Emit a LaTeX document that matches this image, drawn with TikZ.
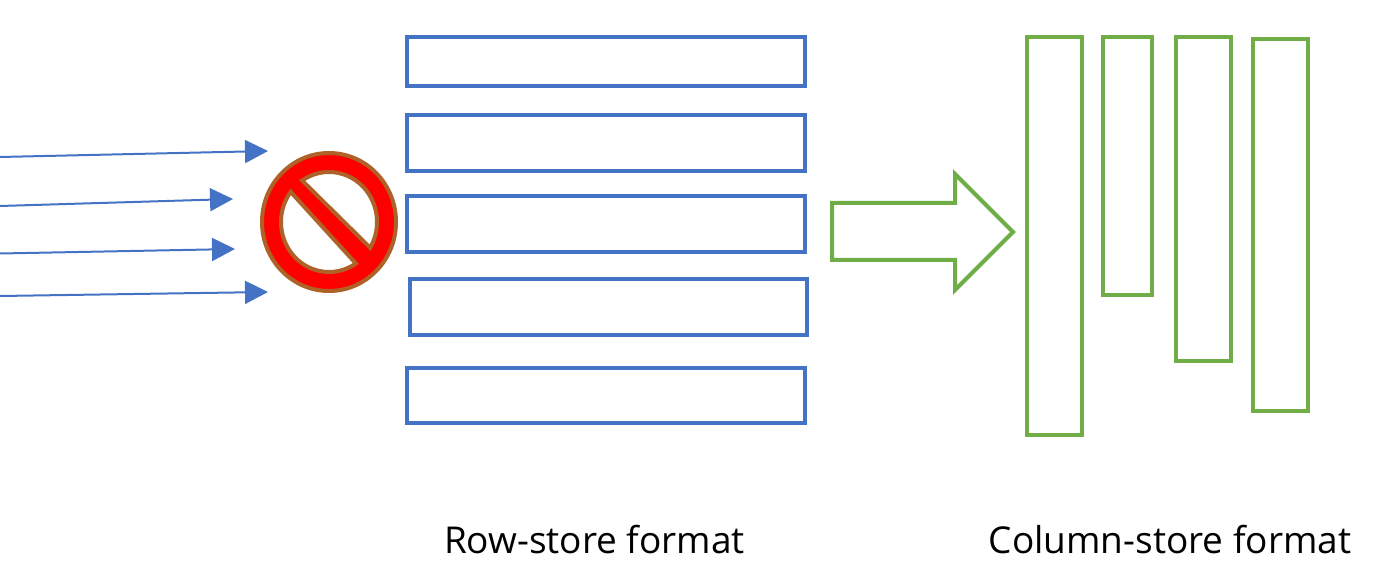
\documentclass[tikz,border=0pt]{standalone}
\usepackage{fontspec}
\setmainfont{Open Sans}
\usetikzlibrary{arrows.meta}
\definecolor{RowBlue}{RGB}{68,114,196}
\definecolor{ColGreen}{RGB}{112,173,71}
\definecolor{StopBrown}{RGB}{174,98,40}
\begin{document}
\begin{tikzpicture}[>={Triangle[length=23pt,width=23pt]},x=1pt,y=-1pt,
  rowbox/.style={draw=RowBlue,line width=4pt},
  colbox/.style={draw=ColGreen,line width=4pt},
  incoming/.style={draw=RowBlue,line width=2pt,->},
  stopsign/.style={draw=StopBrown,line width=4pt},
  caption/.style={anchor=base,font=\fontsize{37pt}{41pt}\selectfont}]
\useasboundingbox (0,0) rectangle (1373,577);
\coordinate (inA) at (0,157);
\coordinate (inB) at (0,206);
\coordinate (inC) at (0,253.5);
\coordinate (inD) at (0,296);
\coordinate (tipA) at (268,151);
\coordinate (tipB) at (233,199);
\coordinate (tipC) at (235,249);
\coordinate (tipD) at (268,292);
\draw[incoming] (inA)--(tipA);
\draw[incoming] (inB)--(tipB);
\draw[incoming] (inC)--(tipC);
\draw[incoming] (inD)--(tipD);
\draw[stopsign,fill=red] (329,222) ellipse [x radius=67,y radius=69];
\draw[stopsign,fill=white] (329,222) ++(-124:48 and 50) arc [start angle=-124,end angle=31,x radius=48,y radius=50] -- cycle;
\draw[stopsign,fill=white] (329,222) ++(56:48 and 50) arc [start angle=56,end angle=217,x radius=48,y radius=50] -- cycle;
\draw[rowbox] (407,37) rectangle (805,86);
\draw[rowbox] (407,115) rectangle (805,171);
\draw[rowbox] (407,196) rectangle (805,252);
\draw[rowbox] (410,279) rectangle (807,335);
\draw[rowbox] (407,368) rectangle (805,423);
\draw[colbox] (832,203)--(955,203)--(955,174)--(1013,232)--(955,290)--(955,260)--(832,260)--cycle;
\draw[colbox] (1027,37) rectangle (1082,435);
\draw[colbox] (1103,37) rectangle (1152,295);
\draw[colbox] (1176,37) rectangle (1231,361);
\draw[colbox] (1253,39) rectangle (1308,411);
\node[caption] (rowlabel) at (594.5,553) {Row-store format};
\node[caption] (collabel) at (1170,553) {Column-store format};
\end{tikzpicture}
\end{document}
